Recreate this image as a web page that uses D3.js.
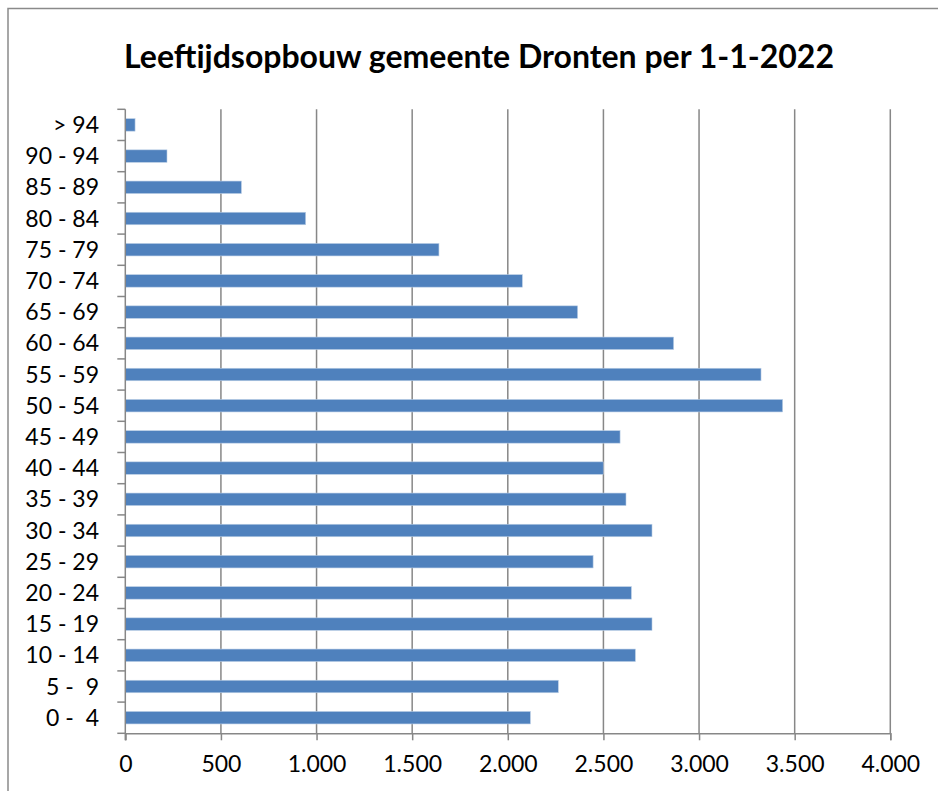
<!DOCTYPE html>
<html>
<head>
<meta charset="utf-8">
<script src="https://cdn.jsdelivr.net/npm/d3@7"></script>
<style>
  html, body { margin: 0; padding: 0; background: #fff; }
  svg { display: block; }
  text { font-family: Lato, "Open Sans", sans-serif; fill: #000; }
</style>
</head>
<body>
<svg id="chart" width="938" height="791"></svg>
<script>
// Data (top to bottom as shown)
const categories = ["> 94", "90 - 94", "85 - 89", "80 - 84", "75 - 79", "70 - 74", "65 - 69",
  "60 - 64", "55 - 59", "50 - 54", "45 - 49", "40 - 44", "35 - 39", "30 - 34", "25 - 29",
  "20 - 24", "15 - 19", "10 - 14", "5 -  9", "0 -  4"];
const values = [51, 218, 607, 943, 1640, 2076, 2365, 2867, 3324, 3437, 2587, 2499, 2618,
  2754, 2446, 2646, 2754, 2667, 2264, 2118];
const xTicks = [0, 500, 1000, 1500, 2000, 2500, 3000, 3500, 4000];
const title = "Leeftijdsopbouw gemeente Dronten per 1-1-2022";

(function () {
const svg = d3.select("#chart");
const pLeft = 125.3, pRight = 890.3, pTop = 109.3, pBottom = 733.3;
const gridColor = "#878787";

// chart border (extends past right/bottom edge as in reference)
svg.append("rect").attr("x", 8).attr("y", 8.5).attr("width", 1000).attr("height", 1000)
  .attr("fill", "none").attr("stroke", "#8a8a8a").attr("stroke-width", 1.5);

const x = d3.scaleLinear().domain([0, 4000]).range([pLeft, pRight]);
const y = d3.scaleBand().domain(categories).range([pTop, pBottom]).paddingInner(0.6).paddingOuter(0.3);

// gridlines
svg.append("g").selectAll("line").data(xTicks.slice(1)).join("line")
  .attr("x1", d => x(d)).attr("x2", d => x(d))
  .attr("y1", pTop).attr("y2", pBottom)
  .attr("stroke", gridColor).attr("stroke-width", 1.5);

// bars
svg.append("g").selectAll("rect").data(values).join("rect")
  .attr("x", x(0))
  .attr("y", (d, i) => y(categories[i]))
  .attr("width", d => x(d) - x(0))
  .attr("height", y.bandwidth())
  .attr("fill", "#4F81BD")
  .attr("stroke", "#b9cde5").attr("stroke-width", 0.6);

// x axis
const xAxis = d3.axisBottom(x).tickValues(xTicks).tickSize(7).tickPadding(15)
  .tickFormat(d => d3.format(",")(d).replace(/,/g, "."));
const gx = svg.append("g").attr("transform", `translate(0,${pBottom})`).call(xAxis);
gx.select(".domain").attr("stroke", gridColor).attr("stroke-width", 1.5);
gx.selectAll(".tick line").attr("stroke", gridColor).attr("stroke-width", 1.5);
gx.selectAll(".tick text").attr("font-size", 23).attr("font-family", "Lato, sans-serif").attr("fill", "#000");

// y axis: ticks at band boundaries
svg.append("line").attr("x1", pLeft).attr("x2", pLeft).attr("y1", pTop).attr("y2", pBottom + 7)
  .attr("stroke", gridColor).attr("stroke-width", 1.5);
const step = (pBottom - pTop) / categories.length;
svg.append("g").selectAll("line").data(d3.range(categories.length + 1)).join("line")
  .attr("x1", pLeft - 8).attr("x2", pLeft)
  .attr("y1", i => pTop + i * step).attr("y2", i => pTop + i * step)
  .attr("stroke", gridColor).attr("stroke-width", 1.5);
svg.append("g").selectAll("text").data(categories).join("text")
  .attr("x", 99)
  .attr("y", d => y(d) + y.bandwidth() / 2)
  .attr("dy", "0.35em")
  .attr("text-anchor", "end")
  .attr("font-size", 23)
  .attr("xml:space", "preserve")
  .style("white-space", "pre")
  .text(d => d);

// title
const t = svg.append("text").attr("x", 479).attr("y", 68)
  .attr("text-anchor", "middle").attr("font-weight", "bold").attr("font-size", 26)
  .text(title);
const w = t.node().getComputedTextLength();
t.attr("font-size", 26 * 710 / w);
})();
</script>
</body>
</html>
